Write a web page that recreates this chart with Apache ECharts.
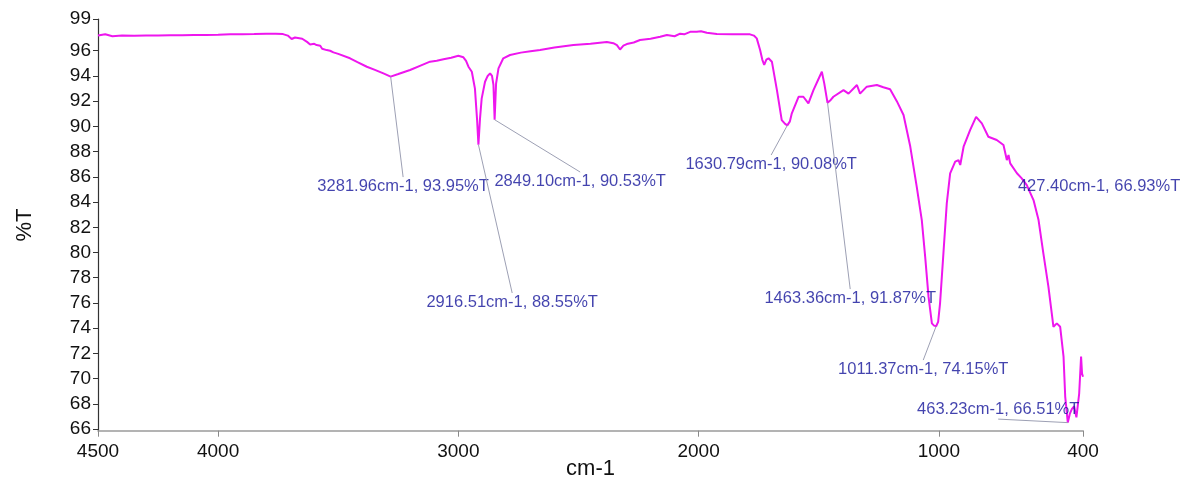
<!DOCTYPE html>
<html>
<head>
<meta charset="utf-8">
<script src="https://cdn.jsdelivr.net/npm/echarts@6/dist/echarts.min.js"></script>
<style>html,body{margin:0;padding:0;background:#fff}#c{width:1193px;height:486px}</style>
</head>
<body>
<div id="c"></div>
<script>
// ---- data ----
const wavenumbers = [4500,4470,4440,4400,4350,4300,4250,4200,4150,4100,4050,4000,3950,3900,3850,3800,3760,3730,3710,3694,3680,3673,3650,3630,3617,3600,3590,3584,3575,3567,3560,3548,3540,3534,3520,3500,3451,3420,3381,3350,3312,3281.96,3250,3201,3160,3118,3090,3062,3030,3000,2979,2968,2958,2944,2931,2922,2916.51,2910,2903,2889,2878,2868,2860,2854,2849.10,2843,2833,2813,2785,2740,2700,2660,2600,2521,2450,2382,2355,2340,2327,2313,2299,2270,2244,2200,2160,2132,2100,2077,2060,2035,2008,1990,1966,1924,1860,1786,1770,1758,1744,1735,1727,1718,1709,1695,1674,1654,1640,1630.79,1620,1612,1584,1564,1543,1522,1500,1487,1477,1463.36,1450,1439,1397,1376,1341,1328,1300,1258,1231,1203,1175,1147,1119,1092,1071,1057,1043,1029,1020,1011.37,1003,995,981,967,953,932,918,911,897,870,845,821,794,759,731,717,710,703,675,655,634,606,585,565,544,530,523,509,495,481,474,463.23,455,446,437,427.40,416,408,404,400];
const transmittance = [97.2,97.3,97.15,97.2,97.18,97.2,97.2,97.22,97.22,97.25,97.25,97.27,97.3,97.3,97.32,97.35,97.35,97.32,97.2,96.93,97.05,97.03,96.95,96.7,96.5,96.55,96.45,96.3,96.4,96.15,96.3,96.05,96.2,96.0,95.87,95.75,95.4,95.1,94.73,94.5,94.2,93.95,94.15,94.47,94.8,95.13,95.2,95.32,95.45,95.6,95.48,95.2,94.73,94.33,93.0,90.5,88.55,90.6,92.2,93.54,94.0,94.2,94.0,93.3,90.53,93.4,94.6,95.4,95.66,95.85,95.95,96.05,96.25,96.45,96.55,96.7,96.6,96.45,96.1,96.4,96.53,96.65,96.85,96.95,97.11,97.25,97.15,97.35,97.3,97.5,97.5,97.55,97.43,97.32,97.3,97.3,97.2,96.98,96.06,95.3,94.87,95.3,95.4,95.13,92.88,90.5,90.2,90.08,90.4,91.04,92.35,92.35,91.83,92.88,93.8,94.33,93.41,91.87,92.1,92.35,92.88,92.6,93.28,92.6,93.15,93.28,93.1,92.94,92.0,90.9,88.4,85.2,82.57,79.67,76.5,74.38,74.2,74.15,74.5,75.97,79.93,83.9,86.28,87.2,87.33,86.94,88.39,89.71,90.76,90.24,89.18,88.92,88.52,87.33,87.73,87.07,86.28,85.88,85.35,84.16,82.57,79.93,77.29,75.17,74.11,74.38,74.11,71.74,68.56,66.51,67.2,67.6,67.8,66.93,68.8,71.74,70.4,70.15];

// peak annotations
const peakWn = [3281.96, 2916.51, 2849.10, 1630.79, 1463.36, 1011.37, 463.23, 427.40];
const peakT  = [93.95, 88.55, 90.53, 90.08, 91.87, 74.15, 66.51, 66.93];
// where each callout text is anchored (data coordinates) and on which side of the anchor it sits
const calloutWn = [3230, 2776, 2493, 1698, 1369, 1065, 753, 333];
const calloutT  = [85.98, 76.79, 86.38, 87.73, 77.1, 71.47, 66.79, 84.48];
const calloutSide = ['bottom','bottom','bottom','bottom','bottom','bottom','top','top'];

// axis ticks
const xTicks = [4500, 4000, 3000, 2000, 1000, 400];
const yTicks = [66,68,70,72,74,76,78,80,82,84,86,88,90,92,94,96,98.5];
const xMin = 400, xMax = 4500, yMin = 65.87, yMax = 98.5;

// ---- chart ----
const FONT = "'Liberation Sans', Arial, sans-serif";
const chart = echarts.init(document.getElementById('c'), null, {renderer: 'canvas'});
const spectrum = wavenumbers.map((w, i) => [w, transmittance[i]]);
const callouts = peakWn.map((w, i) => ({
  value: [calloutWn[i], calloutT[i]],
  name: w.toFixed(2) + 'cm-1, ' + peakT[i].toFixed(2) + '%T',
  label: {position: calloutSide[i]}
}));
const leaders = peakWn.map((w, i) => [
  {coord: [w, peakT[i]]},
  {coord: [calloutWn[i], calloutT[i]]}
]);

chart.setOption({
  animation: false,
  backgroundColor: '#fff',
  grid: {left: 98, right: 110, top: 19.2, bottom: 55.3, outerBoundsMode: 'none', containLabel: false},
  xAxis: {
    type: 'value', inverse: true, min: xMin, max: xMax,
    name: 'cm-1', nameLocation: 'middle', nameGap: 27, nameMoveOverlap: false,
    nameTextStyle: {fontFamily: FONT, fontSize: 22, color: '#111'},
    axisLine: {show: true, onZero: false, lineStyle: {color: '#9a9a9a', width: 1.5}},
    axisTick: {show: true, length: 6, customValues: xTicks, lineStyle: {color: '#8a8a8a'}},
    axisLabel: {customValues: xTicks, fontFamily: FONT, fontSize: 19, color: '#111', margin: 12,
      formatter: v => String(v)},
    splitLine: {show: false}
  },
  yAxis: {
    type: 'value', min: yMin, max: yMax,
    name: '%T', nameLocation: 'middle', nameGap: 62, nameRotate: 90, nameMoveOverlap: false,
    nameTextStyle: {fontFamily: FONT, fontSize: 22, color: '#111'},
    axisLine: {show: true, lineStyle: {color: '#333', width: 1.2}},
    axisTick: {show: true, length: 5, customValues: yTicks, lineStyle: {color: '#333'}},
    axisLabel: {customValues: yTicks, fontFamily: FONT, fontSize: 19, color: '#111', margin: 7,
      formatter: v => String(Math.round(v))},
    splitLine: {show: false}
  },
  series: [
    {
      type: 'line', data: spectrum, showSymbol: false, symbol: 'none',
      lineStyle: {color: '#ee16ee', width: 2}, z: 3
    },
    {
      type: 'scatter', data: callouts, symbolSize: 0, clip: false, silent: true, z: 4,
      label: {show: true, formatter: p => p.name, distance: 1,
        fontFamily: FONT, fontSize: 16.5, color: '#14149a'},
      markLine: {
        symbol: 'none', silent: true, animation: false,
        lineStyle: {color: '#9da0b4', width: 1, type: 'solid'},
        label: {show: false},
        emphasis: {disabled: true},
        data: leaders
      }
    }
  ]
});
</script>
</body>
</html>
